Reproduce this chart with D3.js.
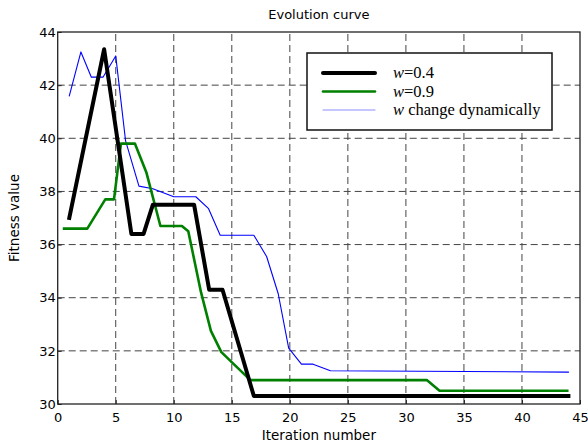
<!DOCTYPE html>
<html>
<head>
<meta charset="utf-8">
<script src="https://cdn.jsdelivr.net/npm/d3@7"></script>
<style>
  body { margin: 0; background: #fff; }
  text { font-family: "DejaVu Sans", sans-serif; fill: #000; }
  .legend text { font-family: "Liberation Serif", serif; }
</style>
</head>
<body>
<div id="chart"></div>
<script>
// series
var x04 = [1, 4, 6.35, 7.4, 8.2, 11.75, 13.05, 14.2, 16.9, 44];
var y04 = [37.0, 43.35, 36.4, 36.4, 37.5, 37.5, 34.3, 34.3, 30.3, 30.3];

var x09 = [0.55, 2.55, 4.1, 4.85, 5.45, 6.65, 7.65, 8.85, 10.7, 11.25, 12.35, 13.2, 14.1, 16.6, 31.8, 32.9, 43.9];
var y09 = [36.6, 36.6, 37.7, 37.7, 39.8, 39.8, 38.7, 36.7, 36.7, 36.5, 34.2, 32.75, 31.95, 30.9, 30.9, 30.5, 30.5];

var xDyn = [1, 2, 2.9, 3.9, 5.0, 5.85, 7.0, 8.2, 10.0, 11.9, 13.0, 14.0, 16.9, 18.0, 19.0, 19.9, 21.0, 22.0, 23.5, 44];
var yDyn = [41.6, 43.25, 42.3, 42.3, 43.1, 39.9, 38.2, 38.1, 37.8, 37.8, 37.35, 36.35, 36.35, 35.55, 34.15, 32.1, 31.5, 31.5, 31.25, 31.2];

var xTicks = [0, 5, 10, 15, 20, 25, 30, 35, 40, 45];
var yTicks = [30, 32, 34, 36, 38, 40, 42, 44];

var seriesNames = ["w=0.4", "w=0.9", "w change dynamically"];

var width = 588, height = 445;
var margin = {left: 57.7, right: 8, top: 32, bottom: 41};

var svg = d3.select("#chart").append("svg")
    .attr("width", width)
    .attr("height", height);

var x = d3.scaleLinear()
    .domain([0, 45])
    .range([margin.left, width - margin.right]);

var y = d3.scaleLinear()
    .domain([30, 44])
    .range([height - margin.bottom, margin.top]);

// dashed grid
svg.append("g").selectAll("line")
    .data(xTicks.slice(1, -1))
    .enter().append("line")
    .attr("x1", function(d){ return x(d); })
    .attr("x2", function(d){ return x(d); })
    .attr("y1", y(30)).attr("y2", y(44))
    .attr("stroke", "#444").attr("stroke-width", 1)
    .attr("stroke-dasharray", "7,4");

svg.append("g").selectAll("line")
    .data(yTicks.slice(1, -1))
    .enter().append("line")
    .attr("y1", function(d){ return y(d); })
    .attr("y2", function(d){ return y(d); })
    .attr("x1", x(0)).attr("x2", x(45))
    .attr("stroke", "#444").attr("stroke-width", 1)
    .attr("stroke-dasharray", "7,4");

// axes (ticks pointing in)
var xAxis = d3.axisBottom(x).tickValues(xTicks).tickSize(-4).tickPadding(9).tickFormat(d3.format("d"));
var yAxis = d3.axisLeft(y).tickValues(yTicks).tickSize(-4).tickPadding(2).tickFormat(d3.format("d"));

var gx = svg.append("g")
    .attr("transform", "translate(0," + y(30) + ")")
    .call(xAxis);
var gy = svg.append("g")
    .attr("transform", "translate(" + x(0) + ",0)")
    .call(yAxis);

[gx, gy].forEach(function(g){
    g.select(".domain").remove();
    g.selectAll("text").style("font-size", "13px").attr("fill", "#111");
    g.selectAll(".tick line").attr("stroke", "#222");
});

// frame
svg.append("rect")
    .attr("x", x(0)).attr("y", y(44))
    .attr("width", x(45) - x(0))
    .attr("height", y(30) - y(44))
    .attr("fill", "none")
    .attr("stroke", "#222")
    .attr("stroke-width", 1.3);

// lines
var series = [
    {xs: x04, ys: y04, color: "#000000", w: 4},
    {xs: x09, ys: y09, color: "#008000", w: 2.6},
    {xs: xDyn, ys: yDyn, color: "#0000ff", w: 1.1}
];

var line = d3.line()
    .x(function(d){ return x(d[0]); })
    .y(function(d){ return y(d[1]); });

svg.append("g").selectAll("path")
    .data(series.slice().reverse())
    .enter().append("path")
    .attr("d", function(s){ return line(d3.zip(s.xs, s.ys)); })
    .attr("fill", "none")
    .attr("stroke", function(s){ return s.color; })
    .attr("stroke-width", function(s){ return s.w; })
    .attr("stroke-linejoin", "round")
    .attr("stroke-linecap", "square");

// legend
var legend = svg.append("g").attr("class", "legend");
legend.append("rect")
    .attr("x", 307).attr("y", 53)
    .attr("width", 245).attr("height", 77)
    .attr("fill", "#fff")
    .attr("stroke", "#111")
    .attr("stroke-width", 1.5);

var rows = legend.selectAll(".row")
    .data(series)
    .enter().append("g")
    .attr("class", "row")
    .attr("transform", function(d, i){ return "translate(0," + (73 + i * 18.5) + ")"; });

rows.append("line")
    .attr("x1", 323).attr("x2", 375)
    .attr("y1", 0).attr("y2", 0)
    .attr("stroke", function(d){ return d.color; })
    .attr("stroke-width", function(d){ return d.w; })
    .attr("stroke-opacity", function(d, i){ return i == 2 ? 0.45 : 1; })
    .attr("stroke-linecap", "round");

rows.append("text")
    .attr("x", 393).attr("y", 5)
    .style("font-size", "16.5px")
    .each(function(d, i){
        var name = seriesNames[i];
        var t = d3.select(this);
        t.append("tspan").style("font-style", "italic").text("w");
        t.append("tspan").text(name.slice(1));
    });

// titles
svg.append("text")
    .attr("x", (x(0) + x(45)) / 2).attr("y", 19)
    .attr("text-anchor", "middle")
    .style("font-size", "13px")
    .text("Evolution curve");

svg.append("text")
    .attr("x", (x(0) + x(45)) / 2).attr("y", 440)
    .attr("text-anchor", "middle")
    .style("font-size", "13.5px")
    .text("Iteration number");

svg.append("text")
    .attr("transform", "translate(19," + (y(30) + y(44)) / 2 + ") rotate(-90)")
    .attr("text-anchor", "middle")
    .style("font-size", "13.5px")
    .text("Fitness value");
</script>
</body>
</html>
